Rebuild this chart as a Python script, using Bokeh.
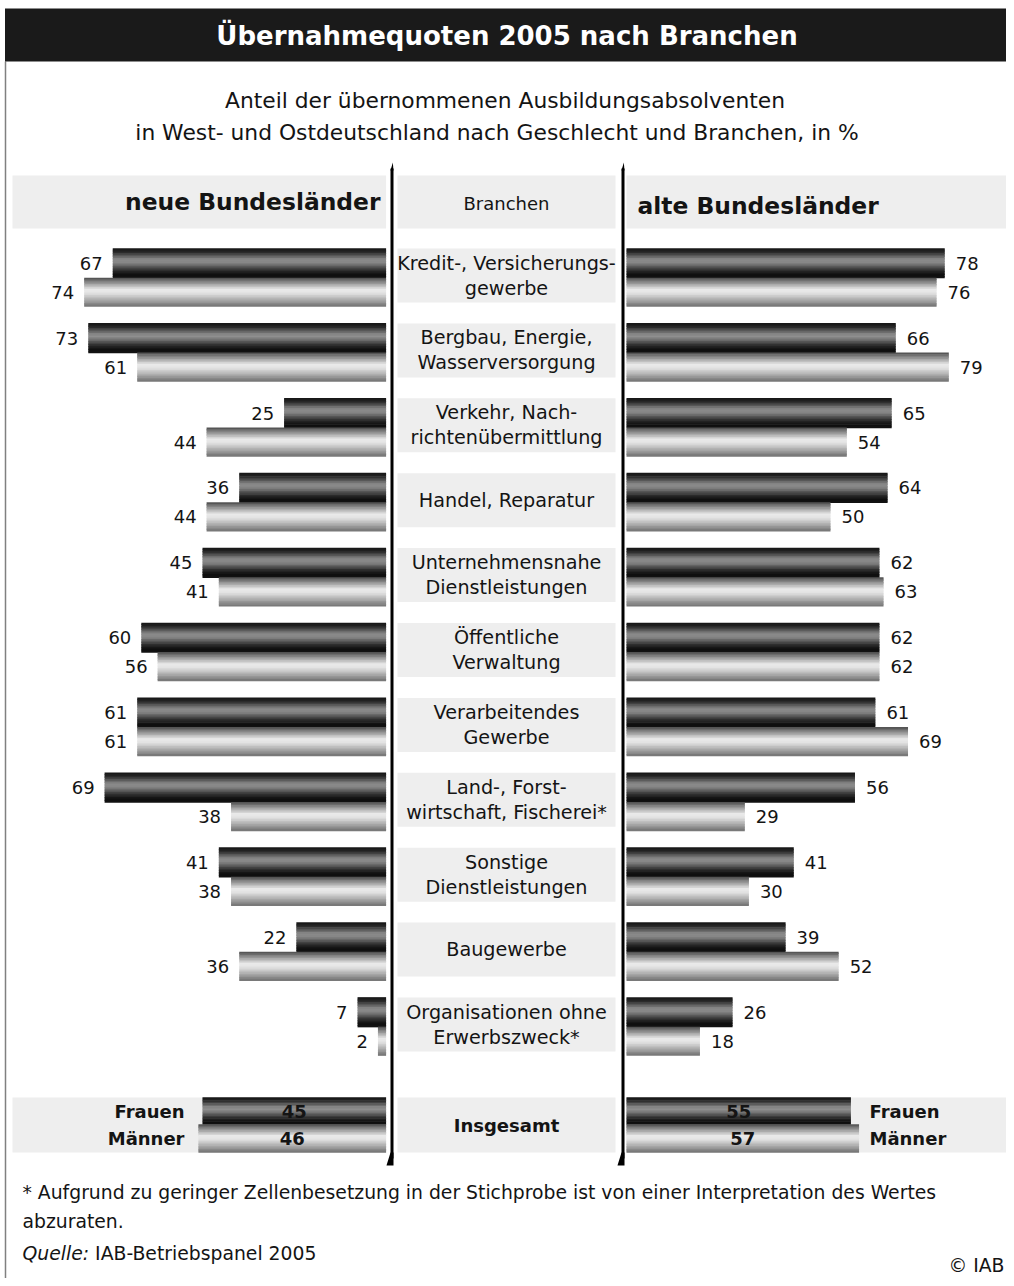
import numpy as np
from bokeh.plotting import figure
from bokeh.models import Range1d
from bokeh.core.properties import value
from bokeh.embed import file_html
from bokeh.resources import INLINE

# ---------------- data ----------------
title = "Übernahmequoten 2005 nach Branchen"
subtitle = ["Anteil der übernommenen Ausbildungsabsolventen",
            "in West- und Ostdeutschland nach Geschlecht und Branchen, in %"]
header_left = "neue Bundesländer"
header_mid = "Branchen"
header_right = "alte Bundesländer"
branchen = ["Kredit-, Versicherungs-\ngewerbe",
            "Bergbau, Energie,\nWasserversorgung",
            "Verkehr, Nach-\nrichtenübermittlung",
            "Handel, Reparatur",
            "Unternehmensnahe\nDienstleistungen",
            "Öffentliche\nVerwaltung",
            "Verarbeitendes\nGewerbe",
            "Land-, Forst-\nwirtschaft, Fischerei*",
            "Sonstige\nDienstleistungen",
            "Baugewerbe",
            "Organisationen ohne\nErwerbszweck*"]
neu_frauen = [67, 73, 25, 36, 45, 60, 61, 69, 41, 22, 7]
neu_maenner = [74, 61, 44, 44, 41, 56, 61, 38, 38, 36, 2]
alt_frauen = [78, 66, 65, 64, 62, 62, 61, 56, 41, 39, 26]
alt_maenner = [76, 79, 54, 50, 63, 62, 69, 29, 30, 52, 18]
gesamt_label = "Insgesamt"
geschlecht = ["Frauen", "Männer"]
neu_gesamt = [45, 46]   # Frauen, Männer
alt_gesamt = [55, 57]   # Frauen, Männer
footnote = ["* Aufgrund zu geringer Zellenbesetzung in der Stichprobe ist von einer Interpretation des Wertes",
            "abzuraten."]
quelle_label = "Quelle:"
quelle_text = "IAB-Betriebspanel 2005"
copyright_text = "© IAB"

# ---------------- layout / style ----------------
W, H = 1006, 1278
FONT = value("DejaVu Sans")
INK = "#141414"
BAND = "#eeeeee"
PX = 4.08               # pixels per percentage point
L0, R0 = 385.6, 626.0   # zero lines of left / right panel
ROW0, PITCH = 248.0, 74.9
DARK_H, LIGHT_H = 29.5, 28.5
INS_TOP, INS_DARK_H, INS_LIGHT_H = 1097.0, 27.0, 28.0
CELL_L, CELL_R, CELL_H = 397.0, 615.0, 54.0
MID = (CELL_L + CELL_R) / 2

p = figure(width=W, height=H, x_range=Range1d(0, W), y_range=Range1d(H, 0),
           output_backend="svg", toolbar_location=None, min_border=0,
           x_axis_type=None, y_axis_type=None, outline_line_color=None,
           background_fill_color="white", border_fill_color="white")
p.grid.visible = False
p.extra_x_ranges = {
    "L": Range1d(start=L0 / PX, end=(L0 - W) / PX),
    "R": Range1d(start=-R0 / PX, end=(W - R0) / PX),
}

# frame + title bar
p.line(x=[5, 5], y=[61, H], line_color="#808080", line_width=1.5)
p.quad(left=[4.5], right=[W], top=[8], bottom=[61], fill_color="#1a1a1a", line_color=None)
p.text(x=[506.5], y=[35], text=[title], text_font=FONT, text_font_style="bold",
       text_font_size="26px", text_color="white", text_align="center", text_baseline="middle")
p.text(x=[504.5, 496.5], y=[100, 132], text=subtitle, text_font=FONT, text_font_size="21.8px",
       text_color=INK, text_align="center", text_baseline="middle")

# header band
p.quad(left=[12, CELL_L, R0], right=[L0, CELL_R, W], top=[175] * 3, bottom=[228] * 3,
       fill_color=BAND, line_color=None)
p.text(x=[380], y=[201], text=[header_left], text_font=FONT, text_font_style="bold",
       text_font_size="23.4px", text_color=INK, text_align="right", text_baseline="middle")
p.text(x=[637], y=[205], text=[header_right], text_font=FONT, text_font_style="bold",
       text_font_size="23.4px", text_color=INK, text_align="left", text_baseline="middle")
p.text(x=[MID], y=[203], text=[header_mid], text_font=FONT, text_font_size="18px",
       text_color=INK, text_align="center", text_baseline="middle")

n = len(branchen)
row_top = np.array([ROW0 + i * PITCH for i in range(n)])

# centre cells + labels
p.quad(left=[CELL_L] * n, right=[CELL_R] * n, top=list(row_top), bottom=list(row_top + CELL_H),
       fill_color=BAND, line_color=None)
lx, ly, lt = [], [], []
for i, lab in enumerate(branchen):
    parts = lab.split("\n")
    c = row_top[i] + CELL_H / 2
    offs = [0.0] if len(parts) == 1 else [-12.5, 12.5]
    for part, o in zip(parts, offs):
        lx.append(MID)
        ly.append(c + o)
        lt.append(part)
p.text(x=lx, y=ly, text=lt, text_font=FONT, text_font_size="19.2px", text_color=INK,
       text_align="center", text_baseline="middle")

# Insgesamt band
p.quad(left=[12, CELL_L, R0], right=[L0, CELL_R, W], top=[INS_TOP] * 3,
       bottom=[INS_TOP + INS_DARK_H + INS_LIGHT_H] * 3, fill_color=BAND, line_color=None)
p.text(x=[MID], y=[INS_TOP + 27.5], text=[gesamt_label], text_font=FONT,
       text_font_style="bold", text_font_size="18px", text_color=INK,
       text_align="center", text_baseline="middle")

# gradient bars (drawn as thin horizontal strips)
DARK_STOPS = [(0.0, 0x14), (0.12, 0x24), (0.38, 0x8a), (0.50, 0x86), (0.75, 0x2e), (0.9, 0x0e), (1.0, 0x12)]
LIGHT_STOPS = [(0.0, 0x4a), (0.15, 0x86), (0.42, 0xea), (0.55, 0xe2), (0.8, 0xa6), (1.0, 0x72)]


def shade(stops, t):
    ts = [s[0] for s in stops]
    vs = [s[1] for s in stops]
    g = int(round(np.interp(t, ts, vs)))
    return "#%02x%02x%02x" % (g, g, g)


dark_top = np.append(row_top, INS_TOP)
dark_h = np.append(np.full(n, DARK_H), INS_DARK_H)
light_top = dark_top + dark_h
light_h = np.append(np.full(n, LIGHT_H), INS_LIGHT_H)

series = [
    ("L", neu_frauen + [neu_gesamt[0]], dark_top, dark_h, DARK_STOPS),
    ("L", neu_maenner + [neu_gesamt[1]], light_top, light_h, LIGHT_STOPS),
    ("R", alt_frauen + [alt_gesamt[0]], dark_top, dark_h, DARK_STOPS),
    ("R", alt_maenner + [alt_gesamt[1]], light_top, light_h, LIGHT_STOPS),
]
NS = 18
for rng, vals, top, hgt, stops in series:
    for k in range(NS):
        t = (k + 0.5) / NS
        p.hbar(y=top + (k + 0.5) * hgt / NS, height=hgt / NS + 0.7, left=0, right=vals,
               x_range_name=rng, fill_color=shade(stops, t), line_color=None)

# value labels
yd = dark_top[:n] + dark_h[:n] / 2
yl = light_top[:n] + light_h[:n] / 2
lab_kw = dict(text_font=FONT, text_font_size="18px", text_color=INK, text_baseline="middle")
p.text(x=neu_frauen, y=yd, text=[str(v) for v in neu_frauen], x_range_name="L",
       x_offset=-10, text_align="right", **lab_kw)
p.text(x=neu_maenner, y=yl, text=[str(v) for v in neu_maenner], x_range_name="L",
       x_offset=-10, text_align="right", **lab_kw)
p.text(x=alt_frauen, y=yd, text=[str(v) for v in alt_frauen], x_range_name="R",
       x_offset=11, text_align="left", **lab_kw)
p.text(x=alt_maenner, y=yl, text=[str(v) for v in alt_maenner], x_range_name="R",
       x_offset=11, text_align="left", **lab_kw)

# Insgesamt values inside bars + gender labels
ins_y = [dark_top[n] + dark_h[n] / 2, light_top[n] + light_h[n] / 2]
bold_kw = dict(text_font=FONT, text_font_style="bold", text_font_size="18px",
               text_color=INK, text_baseline="middle")
p.text(x=[v / 2 for v in neu_gesamt], y=ins_y, text=[str(v) for v in neu_gesamt],
       x_range_name="L", text_align="center", **bold_kw)
p.text(x=[v / 2 for v in alt_gesamt], y=ins_y, text=[str(v) for v in alt_gesamt],
       x_range_name="R", text_align="center", **bold_kw)
p.text(x=[184, 184], y=ins_y, text=geschlecht, text_align="right", **bold_kw)
p.text(x=[869, 869], y=ins_y, text=geschlecht, text_align="left", **bold_kw)

# vertical divider lines with small wedge ends
for xl in (391.5, 622.5):
    p.line(x=[xl, xl], y=[168, 1158], line_color="#000000", line_width=3)
    p.patch(x=[xl - 1.5, xl + 1.5, xl + 0.8], y=[170, 170, 162], fill_color="#000000", line_color=None)
    p.patch(x=[xl - 5.5, xl - 1.5, xl + 1.5, xl + 1.5], y=[1165, 1152, 1152, 1165],
            fill_color="#000000", line_color=None)

# footnotes
FN = 18.8
fn_kw = dict(text_font=FONT, text_font_size="%.1fpx" % FN, text_color=INK, text_baseline="middle")
p.text(x=[22, 22], y=[1192, 1221], text=footnote, text_align="left", **fn_kw)
p.text(x=[22], y=[1253], text=[quelle_label], text_align="left", text_font_style="italic", **fn_kw)
p.text(x=[22 + (3.544 + 0.318) * FN], y=[1253], text=[quelle_text], text_align="left", **fn_kw)
p.text(x=[1004], y=[1265], text=[copyright_text], text_align="right", **fn_kw)

open("out.html", "w", encoding="utf-8").write(file_html(p, INLINE, title=title))
